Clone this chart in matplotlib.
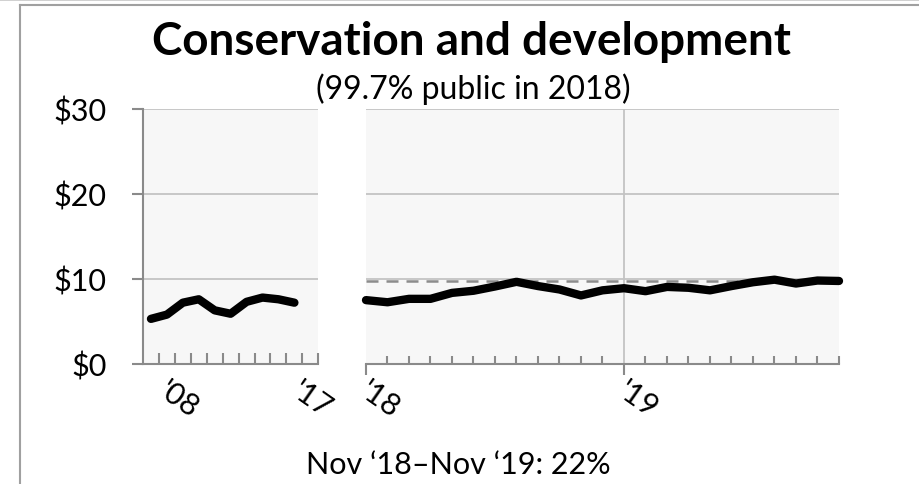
import matplotlib
matplotlib.use("Agg")
import matplotlib.pyplot as plt
from matplotlib.lines import Line2D

# ---- data ----
year_labels = ["'08", "'09", "'10", "'11", "'12", "'13", "'14", "'15", "'16", "'17"]
annual_values = [5.3, 5.8, 7.2, 7.6, 6.3, 5.9, 7.3, 7.8, 7.6, 7.2]

month_labels = ["Jan '18", "Feb '18", "Mar '18", "Apr '18", "May '18", "Jun '18",
                "Jul '18", "Aug '18", "Sep '18", "Oct '18", "Nov '18", "Dec '18",
                "Jan '19", "Feb '19", "Mar '19", "Apr '19", "May '19", "Jun '19",
                "Jul '19", "Aug '19", "Sep '19", "Oct '19", "Nov '19"]
monthly_values = [7.5, 7.25, 7.65, 7.65, 8.35, 8.6, 9.1, 9.65, 9.15, 8.75, 8.05, 8.65,
                  8.9, 8.55, 9.05, 8.95, 8.65, 9.15, 9.6, 9.9, 9.45, 9.8, 9.75]
reference_level = 9.75

y_ticks = [0, 10, 20, 30]
y_tick_labels = ["$0", "$10", "$20", "$30"]
right_year_labels = ["'18", "'19"]

title = "Conservation and development"
subtitle = "(99.7% public in 2018)"
footnote = "Nov \u201818\u2013Nov \u201819: 22%"

# ---- style ----
plt.rcParams['font.family'] = ['Lato', 'DejaVu Sans']
FACE = '#f7f7f7'
GRID = '#c3c3c3'
AXIS = '#8a8a8a'
W, H = 920, 485
FS = 22

fig = plt.figure(figsize=(W / 100, H / 100), dpi=100)

# outer frame
fig.add_artist(Line2D([0, 1], [1 - 1 / H, 1 - 1 / H], color='#c8c8c8', lw=1.2, transform=fig.transFigure))
fig.add_artist(Line2D([20 / W, 1], [1 - 6 / H, 1 - 6 / H], color='#a0a0a0', lw=1.5, transform=fig.transFigure))
fig.add_artist(Line2D([20 / W, 20 / W], [0, 1 - 6 / H], color='#a0a0a0', lw=1.5, transform=fig.transFigure))

bottom = 1 - 365 / H
height = 255.5 / H

# ---- left panel (annual) ----
ax1 = fig.add_axes([143 / W, bottom, 175.3 / W, height])
ax1.set_facecolor(FACE)
ax1.set_axisbelow(True)
n = len(annual_values)
ax1.set_xlim(-0.5, n + 0.5)
ax1.set_ylim(0, 30)
for s in ['top', 'right']:
    ax1.spines[s].set_visible(False)
for s in ['left', 'bottom']:
    ax1.spines[s].set_color(AXIS)
    ax1.spines[s].set_linewidth(1.5)
ax1.set_yticks(y_ticks)
ax1.set_yticklabels(y_tick_labels, fontsize=FS)
ax1.tick_params(axis='y', direction='out', length=8, width=1.5, color=AXIS, pad=18)
ax1.yaxis.grid(True, color=GRID, lw=1.3)
ax1.set_xticks([])
ax1.set_xticks([i + 0.5 for i in range(n + 1)], minor=True)
ax1.tick_params(axis='x', which='minor', direction='in', length=8, width=1.5, color=AXIS)
ax1.plot(range(n), annual_values, color='black', lw=6,
         solid_capstyle='round', solid_joinstyle='round', zorder=5)

for idx, dx in [(0, 13), (n - 1, 6)]:
    ax1.annotate(year_labels[idx], xy=(idx, 0), xycoords=('data', 'axes fraction'),
                 xytext=(dx, -8), textcoords='offset points', ha='left', va='top',
                 rotation=-35, rotation_mode='anchor', fontsize=FS, annotation_clip=False)

# ---- right panel (monthly) ----
ax2 = fig.add_axes([366 / W, bottom, 473 / W, height])
ax2.set_facecolor(FACE)
ax2.set_axisbelow(True)
m = len(monthly_values)
ax2.set_xlim(0, m - 1)
ax2.set_ylim(0, 30)
for s in ['top', 'right', 'left']:
    ax2.spines[s].set_visible(False)
ax2.spines['bottom'].set_color(AXIS)
ax2.spines['bottom'].set_linewidth(1.5)
ax2.set_yticks(y_ticks[1:])
ax2.tick_params(axis='y', length=0, labelleft=False)
ax2.yaxis.grid(True, color=GRID, lw=1.3)
ax2.set_xticks([0, 12])
ax2.set_xticklabels([])
ax2.tick_params(axis='x', which='major', direction='out', length=8, width=1.5, color=AXIS)
ax2.set_xticks(range(1, m), minor=True)
ax2.tick_params(axis='x', which='minor', direction='in', length=6, width=1.5, color=AXIS)
ax2.axvline(12, color=GRID, lw=1.3, zorder=0.5)
ax2.axhline(reference_level, color='#8c8c8c', lw=1.8, ls=(0, (4.8, 3.2)), zorder=3)
ax2.plot(range(m), monthly_values, color='black', lw=6,
         solid_capstyle='round', solid_joinstyle='round', zorder=5, clip_on=False)

for pos, lab, dx in [(0, right_year_labels[0], 3), (12, right_year_labels[1], 3)]:
    ax2.annotate(lab, xy=(pos, 0), xycoords=('data', 'axes fraction'),
                 xytext=(dx, -8), textcoords='offset points', ha='left', va='top',
                 rotation=-35, rotation_mode='anchor', fontsize=FS, annotation_clip=False)

# ---- titles ----
fig.text(472 / W, 1 - 42 / H, title, ha='center', va='center', fontsize=33, fontweight='bold')
fig.text(473 / W, 1 - 89 / H, subtitle, ha='center', va='center', fontsize=23)
fig.text(458 / W, 1 - 465 / H, footnote, ha='center', va='center', fontsize=FS)

fig.savefig('out.png', dpi=100)
